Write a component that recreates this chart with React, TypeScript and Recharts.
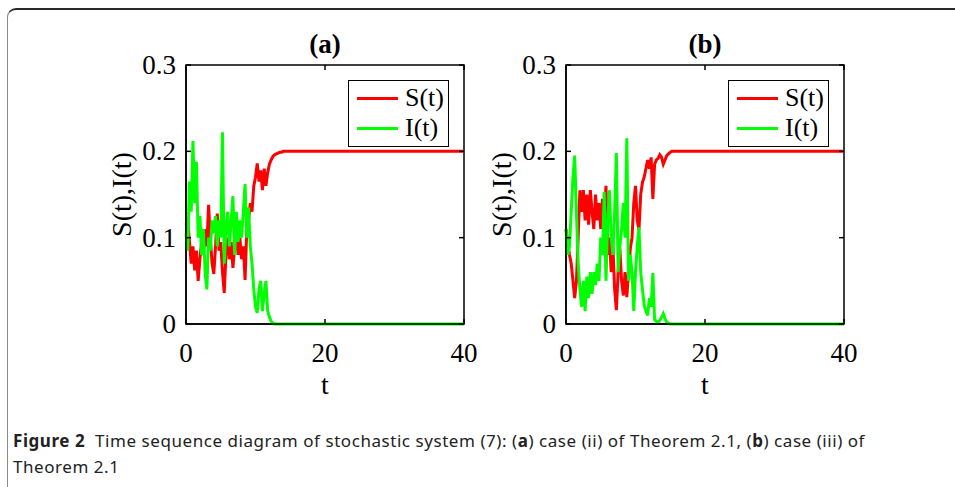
import React from "react";
import { LineChart, Line, XAxis, YAxis, Legend, ReferenceArea } from "recharts";

// time grid (t), shared by both panels
const time = [
  0, 0.25, 0.5, 0.75, 1, 1.25, 1.5, 1.75, 2, 2.25, 2.5, 2.75, 3,
  3.25, 3.5, 3.75, 4, 4.25, 4.5, 4.75, 5, 5.25, 5.5, 5.75, 6,
  6.25, 6.5, 6.75, 7, 7.25, 7.5, 7.75, 8, 8.25, 8.5, 8.75, 9,
  9.25, 9.5, 9.75, 10, 10.25, 10.5, 10.75, 11, 11.25, 11.5, 11.75, 12,
  12.25, 12.5, 12.75, 13, 13.25, 13.5, 13.75, 14, 14.25, 14.5, 14.75, 15,
  15.25, 15.5, 16, 20, 25, 30, 35, 40,
];

// panel (a): case (ii)
const sA = [
  0.115, 0.12, 0.095, 0.07, 0.09, 0.062, 0.085, 0.05, 0.075, 0.095, 0.08, 0.11, 0.09,
  0.138, 0.1, 0.07, 0.058, 0.09, 0.128, 0.085, 0.095, 0.06, 0.036, 0.08, 0.1,
  0.075, 0.095, 0.065, 0.09, 0.1, 0.08, 0.1, 0.075, 0.09, 0.051, 0.11, 0.12,
  0.14, 0.13, 0.16, 0.17, 0.186, 0.165, 0.178, 0.155, 0.18, 0.16, 0.175, 0.185,
  0.19, 0.194, 0.196, 0.197, 0.198, 0.199, 0.199, 0.2, 0.2, 0.2, 0.2, 0.2,
  0.2, 0.2, 0.2, 0.2, 0.2, 0.2, 0.2, 0.2,
];
const iA = [
  0.105, 0.085, 0.165, 0.13, 0.212, 0.14, 0.188, 0.1, 0.125, 0.08, 0.11, 0.06, 0.04,
  0.1, 0.085, 0.12, 0.105, 0.125, 0.09, 0.12, 0.1, 0.222, 0.07, 0.11, 0.13,
  0.09, 0.12, 0.148, 0.08, 0.13, 0.095, 0.12, 0.1, 0.13, 0.162, 0.1, 0.135,
  0.09, 0.07, 0.04, 0.02, 0.013, 0.04, 0.05, 0.015, 0.035, 0.05, 0.015, 0.008,
  0.003, 0.001, 0, 0, 0, 0, 0, 0, 0, 0, 0, 0,
  0, 0, 0, 0, 0, 0, 0, 0,
];

// panel (b): case (iii)
const sB = [
  0.11, 0.095, 0.08, 0.07, 0.05, 0.03, 0.05, 0.1, 0.155, 0.13, 0.155, 0.12, 0.15,
  0.115, 0.155, 0.13, 0.11, 0.15, 0.12, 0.14, 0.11, 0.145, 0.12, 0.16, 0.08,
  0.1, 0.06, 0.09, 0.04, 0.016, 0.06, 0.087, 0.05, 0.033, 0.06, 0.031, 0.06,
  0.087, 0.1, 0.14, 0.16, 0.12, 0.109, 0.15, 0.164, 0.17, 0.18, 0.19, 0.18,
  0.193, 0.145, 0.185, 0.19, 0.192, 0.196, 0.193, 0.185, 0.19, 0.195, 0.197, 0.199,
  0.2, 0.2, 0.2, 0.2, 0.2, 0.2, 0.2, 0.2,
];
const iB = [
  0.11, 0.08, 0.09, 0.13, 0.17, 0.195, 0.13, 0.07, 0.04, 0.02, 0.05, 0.015, 0.055,
  0.03, 0.06, 0.035, 0.06, 0.045, 0.07, 0.05, 0.1, 0.08, 0.153, 0.05, 0.12,
  0.155, 0.1, 0.08, 0.13, 0.198, 0.06, 0.09, 0.11, 0.14, 0.1, 0.215, 0.05,
  0.08, 0.06, 0.015, 0.06, 0.09, 0.112, 0.06, 0.04, 0.022, 0.015, 0.01, 0.03,
  0.02, 0.059, 0.005, 0.003, 0.002, 0.004, 0.008, 0.012, 0.006, 0.002, 0.001, 0,
  0, 0, 0, 0, 0, 0, 0, 0,
];

const xTicks = [0, 20, 40];
const yTicks = [0, 0.1, 0.2, 0.3];
const seriesNames = ["S(t)", "I(t)"];
const seriesColors = ["#ff0000", "#00ff00"];

const SERIF = '"Liberation Serif", "Times New Roman", serif';
const PLOT_W = 278;
const PLOT_H = 259;
const GAP = 10;
const TICK = 5;

const rowsFor = (s: number[], i: number[]) =>
  time.map((t, k) => ({ t, s: s[k], i: i[k] }));

const fmt = (v: number) => (v === 0 ? "0" : String(v));

const LeftTick = (props: any) => {
  const { x, y, payload } = props;
  const ax = x + GAP;
  return (
    <g>
      <line x1={ax} x2={ax + TICK} y1={y} y2={y} stroke="#000" strokeWidth={1.5} />
      <line x1={ax + PLOT_W - TICK} x2={ax + PLOT_W} y1={y} y2={y} stroke="#000" strokeWidth={1.5} />
      <text x={x} y={y} dy={9} textAnchor="end" fontSize={27} fontFamily={SERIF} fill="#000">
        {fmt(payload.value)}
      </text>
    </g>
  );
};

const BottomTick = (props: any) => {
  const { x, y, payload } = props;
  const ay = y - GAP;
  return (
    <g>
      <line x1={x} x2={x} y1={ay} y2={ay - TICK} stroke="#000" strokeWidth={1.5} />
      <line x1={x} x2={x} y1={ay - PLOT_H} y2={ay - PLOT_H + TICK} stroke="#000" strokeWidth={1.5} />
      <text x={x} y={y} dy={28} textAnchor="middle" fontSize={27} fontFamily={SERIF} fill="#000">
        {fmt(payload.value)}
      </text>
    </g>
  );
};

const LegendBox = () => (
  <div
    style={{
      border: "1.5px solid #000",
      background: "#fff",
      width: 99,
      height: 63,
      boxSizing: "content-box",
      fontFamily: SERIF,
      fontSize: 26,
      lineHeight: "30px",
      paddingTop: 2,
    }}
  >
    {seriesNames.map((name, k) => (
      <div key={name} style={{ display: "flex", alignItems: "center", height: 30 }}>
        <span
          style={{
            display: "inline-block",
            width: 41,
            height: 3,
            background: seriesColors[k],
            marginLeft: 8,
            marginRight: 7,
          }}
        />
        <span>{name}</span>
      </div>
    ))}
  </div>
);

function Panel({ left, title, s, i }: { left: number; title: string; s: number[]; i: number[] }) {
  const data = rowsFor(s, i);
  return (
    <div style={{ position: "absolute", left, top: 20, width: 380, height: 380 }}>
      <div
        style={{
          position: "absolute",
          left: 86,
          width: PLOT_W,
          top: 9,
          textAlign: "center",
          fontFamily: SERIF,
          fontWeight: "bold",
          fontSize: 27,
          lineHeight: "30px",
        }}
      >
        {title}
      </div>
      <LineChart width={380} height={380} data={data} margin={{ top: 45, right: 16, bottom: 16, left: 0 }}>
        <XAxis
          dataKey="t"
          type="number"
          domain={[0, 40]}
          ticks={xTicks}
          height={60}
          tickSize={0}
          tickMargin={GAP}
          tickLine={false}
          axisLine={{ stroke: "#000", strokeWidth: 1.5 }}
          tick={<BottomTick />}
          label={{
            value: "t",
            position: "insideBottom",
            offset: -10,
            style: { fontFamily: SERIF, fontSize: 28, fill: "#000" },
          }}
        />
        <YAxis
          type="number"
          domain={[0, 0.3]}
          ticks={yTicks}
          width={86}
          tickSize={0}
          tickMargin={GAP}
          tickLine={false}
          axisLine={{ stroke: "#000", strokeWidth: 1.5 }}
          tick={<LeftTick />}
          label={{
            value: "S(t),I(t)",
            angle: -90,
            position: "insideLeft",
            offset: 21,
            style: { fontFamily: SERIF, fontSize: 28, fill: "#000", textAnchor: "middle" },
          }}
        />
        <ReferenceArea x1={0} x2={40} y1={0} y2={0.3} fill="none" stroke="#000" strokeWidth={1.5} ifOverflow="visible" />
        <Line dataKey="s" name={seriesNames[0]} stroke={seriesColors[0]} strokeWidth={3} dot={false} isAnimationActive={false} />
        <Line dataKey="i" name={seriesNames[1]} stroke={seriesColors[1]} strokeWidth={3} dot={false} isAnimationActive={false} />
        <Legend
          layout="vertical"
          align="center"
          verticalAlign="middle"
          content={<LegendBox />}
          wrapperStyle={{ left: 248, top: 60, width: 102 }}
        />
      </LineChart>
    </div>
  );
}

export default function App() {
  return (
    <div style={{ position: "absolute", left: 0, top: 0, width: 955, height: 487, overflow: "hidden", background: "#fff" }}>
      <div
        style={{
          position: "absolute",
          left: 7,
          top: 8,
          width: 1000,
          height: 600,
          borderTop: "2px solid #2a2a2a",
          borderLeft: "1.5px solid #8a8a8a",
          borderTopLeftRadius: 9,
        }}
      />
      <Panel left={100} title="(a)" s={sA} i={iA} />
      <Panel left={480} title="(b)" s={sB} i={iB} />
      <div
        style={{
          position: "absolute",
          left: 13,
          top: 428,
          fontFamily: '"Noto Sans", sans-serif',
          fontSize: 17,
          lineHeight: "26px",
          color: "#222",
          letterSpacing: 0.55,
        }}
      >
        <b>Figure 2</b>&nbsp; Time sequence diagram of stochastic system (7): (<b>a</b>) case (ii) of Theorem 2.1, (<b>b</b>) case (iii) of
        <br />
        Theorem 2.1
      </div>
    </div>
  );
}
